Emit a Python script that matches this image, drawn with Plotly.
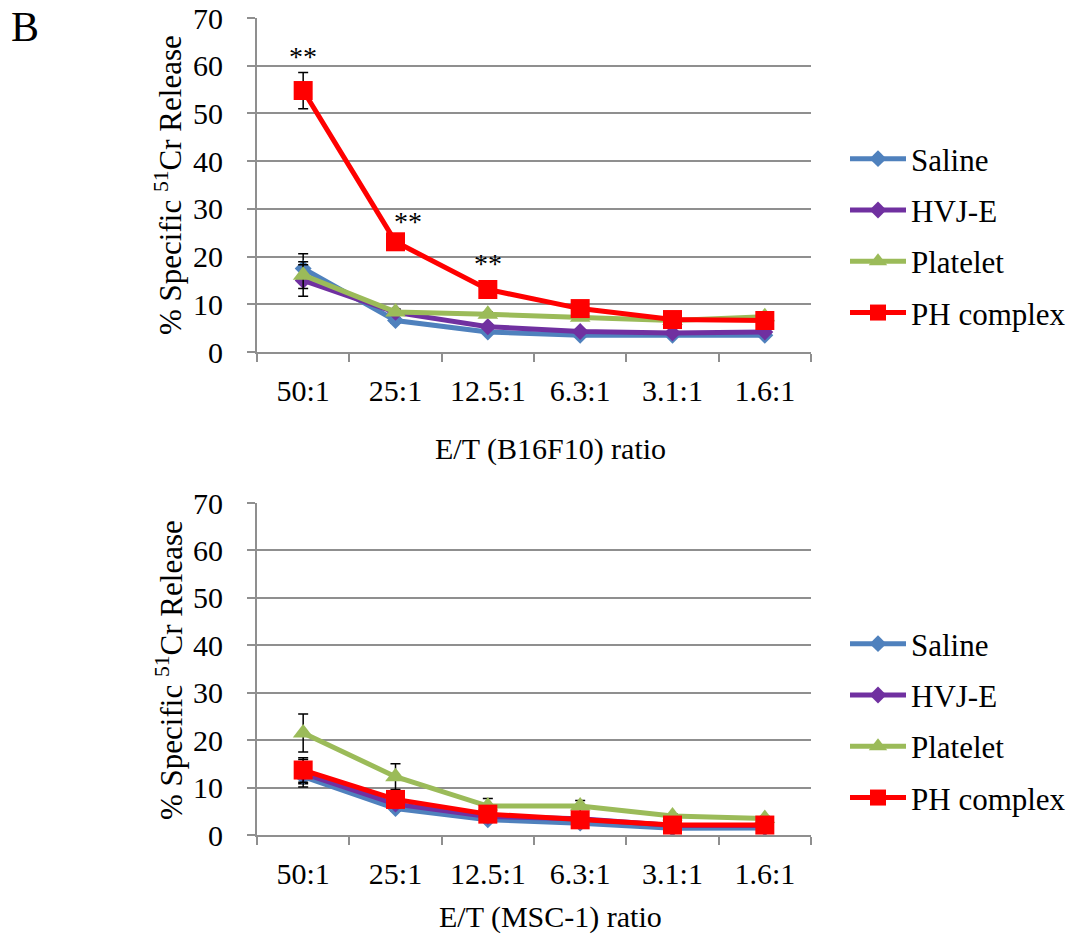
import plotly.graph_objects as go

categories = ["50:1", "25:1", "12.5:1", "6.3:1", "3.1:1", "1.6:1"]
series_names = ["Saline", "HVJ-E", "Platelet", "PH complex"]
colors = ["#4F81BD", "#7030A0", "#9BBB59", "#FF0000"]
symbols = ["diamond", "diamond", "triangle-up", "square"]
marker_sizes = [13, 13, 18, 19]

# Top panel (B16F10)
top_saline = [17.5, 6.6, 4.2, 3.5, 3.5, 3.5]
top_hvje = [15.0, 8.3, 5.3, 4.3, 4.0, 4.2]
top_platelet = [16.1, 8.4, 7.9, 7.3, 6.6, 7.4]
top_ph = [54.8, 23.1, 13.1, 9.1, 6.8, 6.6]
top_saline_err = [3.1, 0.6, 0.4, 0.3, 0.3, 0.3]
top_hvje_err = [3.3, 0.6, 0.5, 0.4, 0.3, 0.3]
top_platelet_err = [2.8, 0.6, 0.5, 0.5, 0.4, 0.4]
top_ph_err = [3.8, 1.0, 0.8, 0.6, 0.5, 0.5]

# Bottom panel (MSC-1)
bot_saline = [12.3, 5.6, 3.2, 2.5, 1.4, 1.5]
bot_hvje = [13.0, 6.5, 3.9, 3.4, 2.0, 2.0]
bot_platelet = [21.5, 12.3, 6.1, 6.1, 4.0, 3.5]
bot_ph = [13.7, 7.5, 4.4, 3.2, 2.1, 2.1]
bot_saline_err = [1.5, 0.6, 0.4, 0.3, 0.3, 0.3]
bot_hvje_err = [2.9, 0.7, 0.5, 0.4, 0.3, 0.3]
bot_platelet_err = [4.0, 2.7, 1.6, 1.2, 0.5, 0.4]
bot_ph_err = [2.6, 1.0, 0.6, 0.5, 0.4, 0.4]

sig_categories = ["50:1", "25:1", "12.5:1"]
sig_y = [62.0, 27.3, 18.5]
sig_labels = ["**", "**", "**"]
sig_xshift = [0, 12, 0]

FONT = "Liberation Serif, Times New Roman, serif"
GRID = "#8f8f8f"

fig = go.Figure()

top_data = [(top_saline, top_saline_err), (top_hvje, top_hvje_err),
            (top_platelet, top_platelet_err), (top_ph, top_ph_err)]
bot_data = [(bot_saline, bot_saline_err), (bot_hvje, bot_hvje_err),
            (bot_platelet, bot_platelet_err), (bot_ph, bot_ph_err)]

for i, (vals, errs) in enumerate(top_data):
    fig.add_trace(go.Scatter(
        x=categories, y=vals, name=series_names[i], mode="lines+markers",
        line=dict(color=colors[i], width=5),
        marker=dict(symbol=symbols[i], size=marker_sizes[i], color=colors[i]),
        error_y=dict(type="data", array=errs, color="black", thickness=1.5, width=5),
        xaxis="x", yaxis="y", legend="legend", legendgroup="t%d" % i,
    ))

for i, (vals, errs) in enumerate(bot_data):
    fig.add_trace(go.Scatter(
        x=categories, y=vals, name=series_names[i], mode="lines+markers",
        line=dict(color=colors[i], width=5),
        marker=dict(symbol=symbols[i], size=marker_sizes[i], color=colors[i]),
        error_y=dict(type="data", array=errs, color="black", thickness=1.5, width=5),
        xaxis="x2", yaxis="y2", legend="legend2", legendgroup="b%d" % i,
    ))

xdom = [257 / 1074, 811 / 1074]
axis_x = dict(
    type="category", categoryorder="array", categoryarray=categories,
    range=[-0.5, 5.5], showline=True, linecolor=GRID, linewidth=2,
    ticks="outside", tickson="boundaries", ticklen=8, tickcolor=GRID, tickwidth=2,
    showgrid=False, tickfont=dict(family=FONT, size=30, color="black"),
    ticklabelstandoff=11, domain=xdom, zeroline=False, automargin=False,
)
axis_y = dict(
    range=[0, 70], dtick=10, showline=True, linecolor=GRID, linewidth=2,
    ticks="outside", ticklen=8, tickcolor=GRID, tickwidth=2,
    showgrid=True, gridcolor=GRID, gridwidth=2, zeroline=False,
    tickfont=dict(family=FONT, size=30, color="black"), ticklabelstandoff=18,
    automargin=False,
)

ytitle = "% Specific <sup>51</sup>Cr Release"
TF = dict(family=FONT, size=30, color="black")

annotations = []
for c, yv, t, xs in zip(sig_categories, sig_y, sig_labels, sig_xshift):
    annotations.append(dict(x=c, y=yv, xref="x", yref="y", text=t, showarrow=False,
                            xanchor="center", yanchor="middle",
                            xshift=xs, font=dict(family=FONT, size=28, color="black")))

annotations += [
    dict(x=25 / 1074, y=1 - 27 / 934, xref="paper", yref="paper", text="B", showarrow=False,
         xanchor="center", yanchor="middle", font=dict(family=FONT, size=42, color="black")),
    dict(x=550 / 1074, y=1 - 449 / 934, xref="paper", yref="paper", text="E/T (B16F10) ratio",
         xanchor="center", yanchor="middle", showarrow=False, font=TF),
    dict(x=550 / 1074, y=1 - 917 / 934, xref="paper", yref="paper", text="E/T (MSC-1) ratio",
         xanchor="center", yanchor="middle", showarrow=False, font=TF),
    dict(x=169 / 1074, y=1 - 185 / 934, xref="paper", yref="paper", text=ytitle, textangle=-90,
         xanchor="center", yanchor="middle", showarrow=False,
         font=dict(family=FONT, size=31, color="black")),
    dict(x=169 / 1074, y=1 - 670 / 934, xref="paper", yref="paper", text=ytitle, textangle=-90,
         xanchor="center", yanchor="middle", showarrow=False,
         font=dict(family=FONT, size=31, color="black")),
]

legend_common = dict(
    xanchor="left", yanchor="top", font=dict(family=FONT, size=31, color="black"),
    bgcolor="rgba(0,0,0,0)", traceorder="grouped", tracegroupgap=8, itemwidth=56,
)

fig.update_layout(
    width=1074, height=934, margin=dict(l=0, r=0, t=0, b=0, autoexpand=False),
    paper_bgcolor="white", plot_bgcolor="white",
    xaxis=dict(axis_x, anchor="y"),
    yaxis=dict(axis_y, domain=[1 - 352 / 934, 1 - 18 / 934], anchor="x"),
    xaxis2=dict(axis_x, anchor="y2"),
    yaxis2=dict(axis_y, domain=[1 - 835 / 934, 1 - 503 / 934], anchor="x2"),
    legend=dict(legend_common, x=845 / 1074, y=1 - 132 / 934),
    legend2=dict(legend_common, x=845 / 1074, y=1 - 617 / 934),
    annotations=annotations,
    showlegend=True,
)

fig.write_html("out.html")
